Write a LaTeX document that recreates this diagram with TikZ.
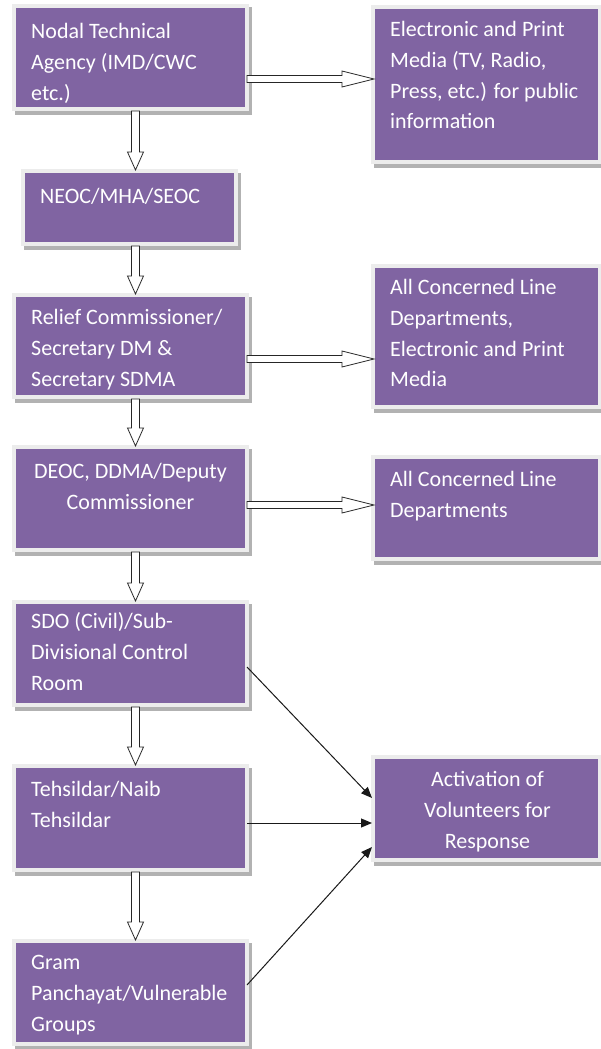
\documentclass[tikz,border=0pt]{standalone}
\usepackage{fontspec}
\setmainfont{Carlito}
\usetikzlibrary{calc,arrows.meta}
\definecolor{boxpurple}{HTML}{8064A2}
\definecolor{framegray}{HTML}{ECECEC}
\definecolor{shadowgray}{HTML}{B2B2B2}
\tikzset{
  box/.style={anchor=north west, inner sep=0pt, outer sep=0pt,
    fill=framegray, draw=framegray, line width=8pt,
    preaction={fill=shadowgray, draw=shadowgray, line width=8pt,
      transform canvas={shift={(2.5pt,-3.5pt)}}},
    postaction={fill=boxpurple, draw=none}},
  txt/.style={text=white, inner sep=0pt, font=\fontsize{22}{30.8}\selectfont},
  blockarrow/.style={draw=black!85, line width=0.8pt, fill=white, line join=miter},
  thinarrow/.style={draw=black!90, line width=1pt, -{Triangle[length=11pt,width=9pt]}}
}
\newcommand\ltext[1]{\parbox[t]{260pt}{\raggedright #1}}
\newcommand\ctext[1]{\parbox[t]{240pt}{\centering #1}}
% horizontal block arrow: from node #1 to node #2 at height #3
\newcommand\harrow[3]{%
  \draw[blockarrow] let \p1=(#1.east), \p2=(#2.west), \p3=(0,#3) in
    (\x1+2pt,\y3+3.5pt) -- (\x2-33pt,\y3+3.5pt) -- (\x2-33pt,\y3+8pt)
    -- (\x2-1pt,\y3) -- (\x2-33pt,\y3-8pt) -- (\x2-33pt,\y3-3.5pt)
    -- (\x1+2pt,\y3-3.5pt) -- cycle;}
% vertical block arrow: from node #1 to node #2 at x #3
\newcommand\varrow[3]{%
  \draw[blockarrow] let \p1=(#1.south), \p2=(#2.north), \p3=(#3,0) in
    (\x3-4pt,\y1-4pt) -- (\x3-4pt,\y2+21pt) -- (\x3-8pt,\y2+21pt)
    -- (\x3,\y2+3pt) -- (\x3+8pt,\y2+21pt) -- (\x3+4pt,\y2+21pt)
    -- (\x3+4pt,\y1-4pt) -- cycle;}
\begin{document}
\begin{tikzpicture}[x=1pt,y=-1pt]
\useasboundingbox (0,0) rectangle (600,1049);
\fill[white] (0,0) rectangle (600,1049);

% left column boxes
\node[box, minimum width=229pt, minimum height=99pt] (nodal) at (16,8) {};
\node[box, minimum width=209pt, minimum height=69pt] (neoc) at (25,173) {};
\node[box, minimum width=229pt, minimum height=98pt] (relief) at (16,297) {};
\node[box, minimum width=229pt, minimum height=99pt] (deoc) at (16,449) {};
\node[box, minimum width=229pt, minimum height=99pt] (sdo) at (16,604) {};
\node[box, minimum width=229pt, minimum height=100pt] (teh) at (16,768) {};
\node[box, minimum width=229pt, minimum height=99pt] (gram) at (16,943) {};
% right column boxes
\node[box, minimum width=223pt, minimum height=151pt] (media) at (375,9) {};
\node[box, minimum width=223pt, minimum height=137pt] (lined) at (375,268) {};
\node[box, minimum width=223pt, minimum height=98pt] (linedtwo) at (375,459) {};
\node[box, minimum width=223pt, minimum height=99pt] (act) at (375,759) {};

% texts
\node[txt, anchor=base west] (tnodal) at (31,38.5) {\ltext{Nodal Technical\\Agency (IMD/CWC\\etc.)}};
\node[txt, anchor=base west] (tneoc) at (40,203.5) {\ltext{NEOC/MHA/SEOC}};
\node[txt, anchor=base west] (trelief) at (31,324.5) {\ltext{Relief Commissioner/\\Secretary DM \&\\Secretary SDMA}};
\node[txt, anchor=base] (tdeoc) at (130.5,478.5) {\ctext{DEOC, DDMA/Deputy\\Commissioner}};
\node[txt, anchor=base west] (tsdo) at (31,628.5) {\ltext{SDO (Civil)/Sub-\\Divisional Control\\Room}};
\node[txt, anchor=base west] (tteh) at (31,796.5) {\ltext{Tehsildar/Naib\\Tehsildar}};
\node[txt, anchor=base west] (tgram) at (31,969.5) {\ltext{Gram\\Panchayat/Vulnerable\\Groups}};
\node[txt, anchor=base west] (tmedia) at (390,36.5) {\ltext{Electronic and Print\\Media (TV, Radio,\\Press, etc.) for public\\information}};
\node[txt, anchor=base west] (tlined) at (390,294.5) {\ltext{All Concerned Line\\Departments,\\Electronic and Print\\Media}};
\node[txt, anchor=base west] (tlinedtwo) at (390,486.5) {\ltext{All Concerned Line\\Departments}};
\node[txt, anchor=base] (tact) at (487.5,786.5) {\ctext{Activation of\\Volunteers for\\Response}};

% block arrows
\harrow{nodal}{media}{79}
\harrow{relief}{lined}{359}
\harrow{deoc}{linedtwo}{505}
\varrow{nodal}{neoc}{135.5}
\varrow{neoc}{relief}{135.5}
\varrow{relief}{deoc}{135.5}
\varrow{deoc}{sdo}{135.5}
\varrow{sdo}{teh}{135.5}
\varrow{teh}{gram}{135.5}

% thin arrows
\draw[thinarrow] ($(sdo.east)+(2,13.5)$) -- ($(act.west)+(-3,-10.5)$);
\draw[thinarrow] ($(teh.east)+(2,5)$) -- ($(act.west)+(-3,14.5)$);
\draw[thinarrow] ($(gram.east)+(2,-7.5)$) -- ($(act.west)+(-3,38.5)$);
\end{tikzpicture}
\end{document}
